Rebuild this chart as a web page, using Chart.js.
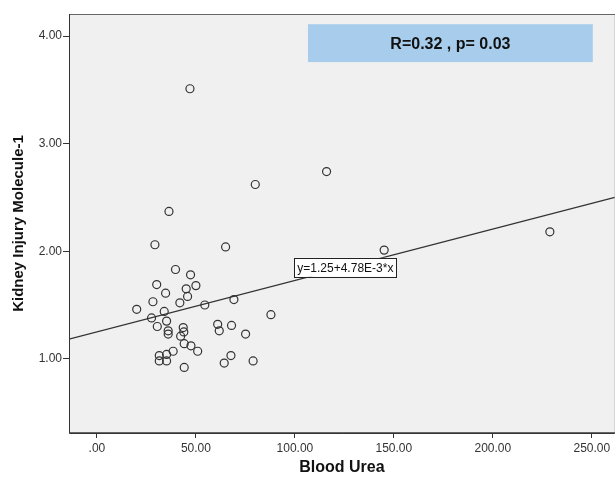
<!DOCTYPE html>
<html>
<head>
<meta charset="utf-8">
<script src="https://cdn.jsdelivr.net/npm/chart.js@4/dist/chart.umd.min.js"></script>
<style>
  html, body { margin: 0; padding: 0; background: #fff; overflow: hidden; }
  /* 5px wider than the window: Chart.js keeps a 5px right margin, the frame has to run off the edge */
  #wrap { width: 620px; height: 477px; position: relative; }
</style>
</head>
<body>
<div id="wrap"><canvas id="scatterChart"></canvas></div>
<script>
// Blood urea (x) vs KIM-1 (y)
const bloodUrea = [
  47.0, 80.0, 116.0, 36.4, 29.3, 65.0, 228.8, 145.1, 39.7, 47.3,
  30.2, 50.0, 45.1, 34.7, 45.8, 28.3, 41.9, 20.1, 34.0, 54.5,
  69.2, 87.9, 27.6, 35.2, 30.5, 43.6, 36.0, 43.9, 36.0, 42.3,
  44.1, 47.5, 50.9, 38.5, 35.2, 31.5, 31.5, 35.2, 44.1, 61.0,
  68.0, 61.8, 75.1, 67.7, 64.3, 78.9
];
const kim1 = [
  3.51, 2.62, 2.74, 2.37, 2.06, 2.04, 2.18, 2.01, 1.83, 1.78,
  1.69, 1.68, 1.65, 1.61, 1.58, 1.53, 1.52, 1.46, 1.44, 1.50,
  1.55, 1.41, 1.38, 1.35, 1.30, 1.29, 1.26, 1.25, 1.23, 1.21,
  1.14, 1.12, 1.07, 1.07, 1.04, 1.03, 0.98, 0.98, 0.92, 1.32,
  1.31, 1.26, 1.23, 1.03, 0.96, 0.98
];

// fit line y = 1.25 + 4.78E-3 * x
const intercept = 1.25;
const slope = 4.78e-3;
const fitLabel = 'y=1.25+4.78E-3*x';
const fitLabelX = 125.5;

const statsText = 'R=0.32 , p= 0.03';
const statsBox = { x0: 106.6, x1: 250.5, y0: 4.11, y1: 3.758 };

const xMin = -14.1, xMax = 261.6;
const yMin = 0.31, yMax = 4.205;
const xTicks = [0, 50, 100, 150, 200, 250];
const yTicks = [1, 2, 3, 4];

const fmt = (v) => (v === 0 ? '.00' : v.toFixed(2));

// plot background + frame, then the two annotations
const frame = {
  id: 'frame',
  beforeDatasetsDraw(chart) {
    const { ctx, chartArea: a } = chart;
    ctx.save();
    ctx.fillStyle = '#f0f0f0';
    ctx.fillRect(a.left, a.top, a.right - a.left, a.bottom - a.top);
    ctx.strokeStyle = '#666';
    ctx.lineWidth = 1;
    ctx.strokeRect(a.left + 0.5, a.top + 0.5, a.right - a.left, a.bottom - a.top - 1);
    ctx.strokeStyle = '#333';
    ctx.beginPath();
    ctx.moveTo(a.left + 0.5, a.top);
    ctx.lineTo(a.left + 0.5, a.bottom + 0.5);
    ctx.lineTo(a.right, a.bottom + 0.5);
    ctx.stroke();
    ctx.restore();
  },
  afterDatasetsDraw(chart) {
    const { ctx, scales: { x, y } } = chart;
    ctx.save();
    // stats box
    const bx0 = x.getPixelForValue(statsBox.x0), bx1 = x.getPixelForValue(statsBox.x1);
    const by0 = y.getPixelForValue(statsBox.y0), by1 = y.getPixelForValue(statsBox.y1);
    ctx.fillStyle = '#a8cdec';
    ctx.fillRect(bx0, by0, bx1 - bx0, by1 - by0);
    ctx.fillStyle = '#111';
    ctx.font = 'bold 16px "Liberation Sans", Arial, sans-serif';
    ctx.textAlign = 'center';
    ctx.textBaseline = 'middle';
    ctx.fillText(statsText, (bx0 + bx1) / 2, (by0 + by1) / 2 + 1);
    // equation label on the fit line
    const lx = x.getPixelForValue(fitLabelX);
    const ly = y.getPixelForValue(intercept + slope * fitLabelX);
    ctx.font = '12px "Liberation Sans", Arial, sans-serif';
    const w = ctx.measureText(fitLabel).width + 6;
    const h = 19;
    ctx.fillStyle = '#fff';
    ctx.fillRect(lx - w / 2, ly - h / 2, w, h);
    ctx.strokeStyle = '#222';
    ctx.lineWidth = 1;
    ctx.strokeRect(Math.round(lx - w / 2) + 0.5, Math.round(ly - h / 2) + 0.5, Math.round(w), h);
    ctx.fillStyle = '#111';
    ctx.fillText(fitLabel, lx, ly + 1);
    ctx.restore();
  }
};

const points = bloodUrea.map((v, i) => ({ x: v, y: kim1[i] }));
const fitLine = [xMin, xMax].map((v) => ({ x: v, y: intercept + slope * v }));

const ctx = document.getElementById('scatterChart').getContext('2d');
new Chart(ctx, {
  type: 'scatter',
  data: {
    datasets: [
      {
        data: fitLine,
        showLine: true,
        borderColor: '#333',
        borderWidth: 1.2,
        pointRadius: 0,
        order: 2,
      },
      {
        data: points,
        pointRadius: 4,
        pointBorderWidth: 1.2,
        pointBorderColor: '#333',
        pointBackgroundColor: 'rgba(0,0,0,0)',
        order: 1,
      },
    ],
  },
  options: {
    responsive: true,
    maintainAspectRatio: false,
    animation: false,
    layout: { padding: { top: 14, right: 0, bottom: 0, left: 0 } },
    plugins: { legend: { display: false }, tooltip: { enabled: false } },
    events: [],
    scales: {
      x: {
        type: 'linear',
        min: xMin,
        max: xMax,
        afterBuildTicks: (s) => { s.ticks = xTicks.map((v) => ({ value: v })); },
        afterFit: (s) => { s.height = 44; },
        grid: { drawOnChartArea: false, tickLength: 5, color: '#333', tickWidth: 1 },
        border: { display: false },
        ticks: {
          callback: (v) => fmt(v),
          color: '#333',
          padding: 3,
          font: { family: '"Liberation Sans", Arial, sans-serif', size: 12 },
        },
        title: {
          display: true,
          text: 'Blood Urea',
          color: '#111',
          padding: { top: 0, bottom: 0 },
          font: { family: '"Liberation Sans", Arial, sans-serif', size: 16, weight: 'bold' },
        },
      },
      y: {
        type: 'linear',
        min: yMin,
        max: yMax,
        afterBuildTicks: (s) => { s.ticks = yTicks.map((v) => ({ value: v })); },
        afterFit: (s) => { s.width = 69; },
        grid: { drawOnChartArea: false, tickLength: 6, color: '#333', tickWidth: 1 },
        border: { display: false },
        ticks: {
          callback: (v) => fmt(v),
          color: '#333',
          padding: 1,
          font: { family: '"Liberation Sans", Arial, sans-serif', size: 12 },
        },
        title: {
          display: true,
          text: 'Kidney Injury Molecule-1',
          color: '#111',
          padding: { top: 10, bottom: 0 },
          font: { family: '"Liberation Sans", Arial, sans-serif', size: 15, weight: 'bold' },
        },
      },
    },
  },
  plugins: [frame],
});
</script>
</body>
</html>
